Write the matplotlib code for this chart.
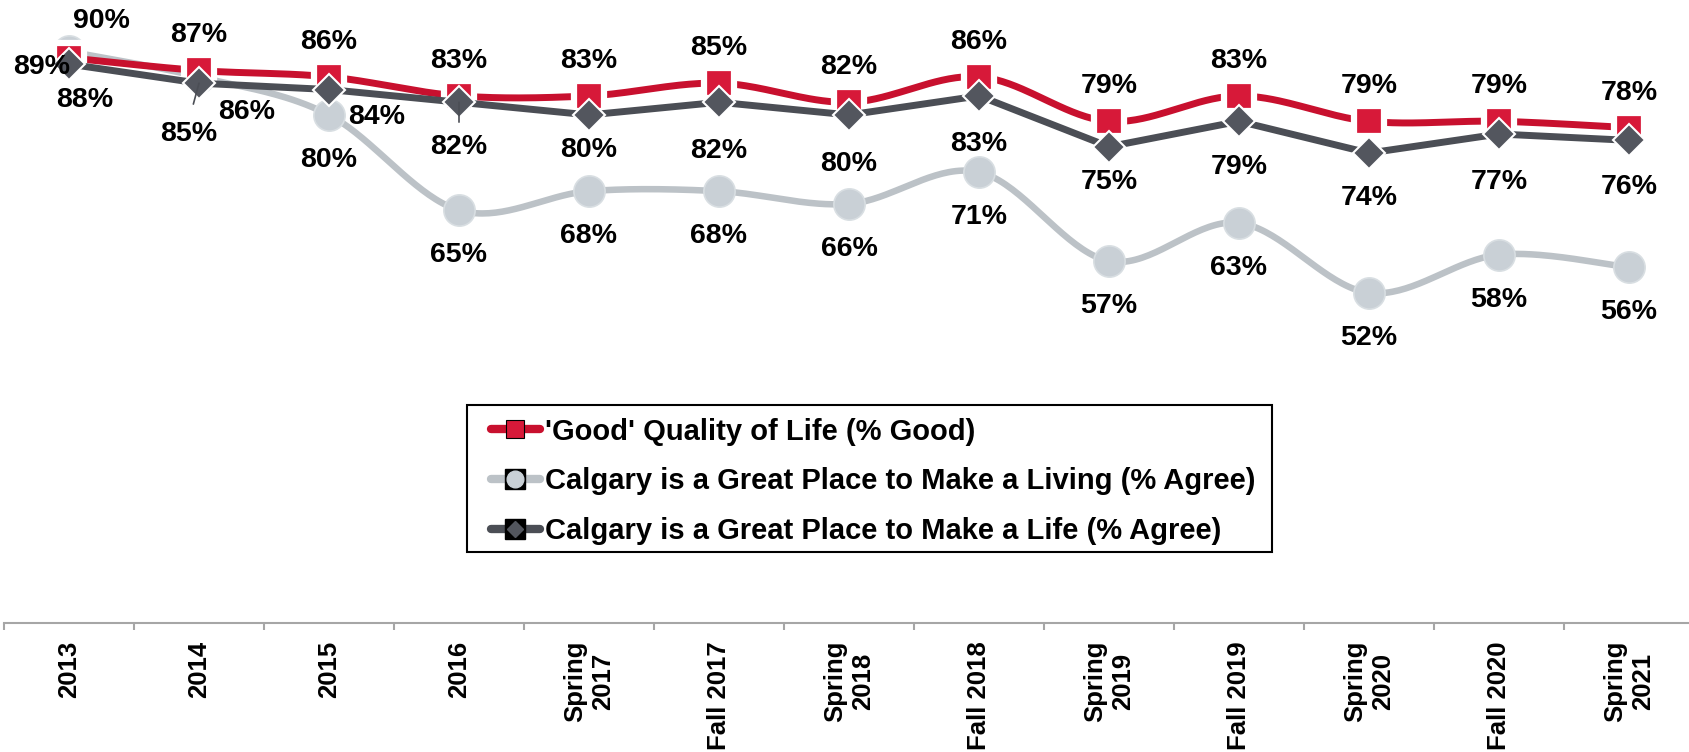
import numpy as np
import matplotlib
matplotlib.use("Agg")
import matplotlib.pyplot as plt
from matplotlib.lines import Line2D
from matplotlib.patches import Rectangle

plt.rcParams['font.family'] = ['Liberation Sans', 'DejaVu Sans']
plt.rcParams['font.weight'] = 'bold'

categories = ['2013', '2014', '2015', '2016', 'Spring\n2017', 'Fall 2017', 'Spring\n2018',
              'Fall 2018', 'Spring\n2019', 'Fall 2019', 'Spring\n2020', 'Fall 2020', 'Spring\n2021']
quality_of_life = [89, 87, 86, 83, 83, 85, 82, 86, 79, 83, 79, 79, 78]
make_a_living = [90, 86, 80, 65, 68, 68, 66, 71, 57, 63, 52, 58, 56]
make_a_life = [88, 85, 84, 82, 80, 82, 80, 83, 75, 79, 74, 77, 76]

series_names = ["'Good' Quality of Life (% Good)",
                "Calgary is a Great Place to Make a Living (% Agree)",
                "Calgary is a Great Place to Make a Life (% Agree)"]

# label offsets in pixels (dx, dy), dy positive = down on the picture
red_off = [(-27, 9)] + [(0, -35)] * 12
light_off = [(32, -30), (48, 35)] + [(0, 45)] * 11
dark_off = [(16, 36), (-10, 51), (48, 27), (0, 45), (0, 35), (0, 49), (0, 49),
            (0, 48), (0, 35), (0, 46), (0, 45), (0, 48), (0, 47)]

RED_LINE, RED_FACE = '#C8102E', '#D71939'
LIGHT_LINE, LIGHT_FACE = '#BCC2C7', '#C9D0D6'
DARK_LINE, DARK_FACE = '#4B4E55', '#53565E'


def smooth(x, y, n=40):
    # Excel-style smoothed line (cubic bezier through the points)
    x = np.asarray(x, float)
    y = np.asarray(y, float)
    px = np.concatenate([[x[0]], x, [x[-1]]])
    py = np.concatenate([[y[0]], y, [y[-1]]])
    t = np.linspace(0, 1, n)[:, None]
    segs = []
    for i in range(len(x) - 1):
        p0 = np.array([px[i], py[i]])
        p1 = np.array([px[i + 1], py[i + 1]])
        p2 = np.array([px[i + 2], py[i + 2]])
        p3 = np.array([px[i + 3], py[i + 3]])
        c1 = p1 + (p2 - p0) / 6
        c2 = p2 - (p3 - p1) / 6
        b = ((1 - t) ** 3) * p1 + 3 * ((1 - t) ** 2) * t * c1 + 3 * (1 - t) * t ** 2 * c2 + t ** 3 * p2
        segs.append(b if i == 0 else b[1:])
    pts = np.vstack(segs)
    return pts[:, 0], pts[:, 1]


fig = plt.figure(figsize=(16.9, 7.52), dpi=100)
ax = fig.add_axes([4 / 1690, 129 / 752, 1.0, 623 / 752])
x = np.arange(len(categories))

# light gray series (bottom)
sx, sy = smooth(x, make_a_living)
ax.plot(sx, sy, color=LIGHT_LINE, lw=4.7, zorder=2, solid_capstyle='round')
ax.plot(x, make_a_living, ls='none', marker='o', ms=22.5, mfc=LIGHT_FACE, mec='#D8DEE2',
        mew=1.2, zorder=2.1)

# red series
sx, sy = smooth(x, quality_of_life)
ax.plot(sx, sy, color=RED_LINE, lw=5, zorder=3, solid_capstyle='round')
ax.plot(x, quality_of_life, ls='none', marker='s', ms=22, mfc=RED_FACE, mec='white',
        mew=4.5, zorder=3.1)

# dark series (top, straight segments)
ax.plot(x, make_a_life, color=DARK_LINE, lw=5, zorder=4)
ax.plot(x, make_a_life, ls='none', marker='D', ms=16.5, mfc=DARK_FACE, mec='white',
        mew=1.5, zorder=4.1)

for vals, offs in [(quality_of_life, red_off), (make_a_living, light_off), (make_a_life, dark_off)]:
    for i, (v, (dx, dy)) in enumerate(zip(vals, offs)):
        ax.annotate(f'{v}%', (x[i], v), xytext=(dx, -dy), textcoords='offset pixels',
                    ha='center', va='center', fontsize=20.5, fontweight='bold',
                    color='black', zorder=10)

# leader lines for the dark labels that sit away from their markers
for i, (sa, sb) in [(1, (12, 0)), (3, (8, 0))]:
    ax.annotate('', xy=(x[i], make_a_life[i]), xytext=(dark_off[i][0], -dark_off[i][1] + 14),
                textcoords='offset pixels',
                arrowprops=dict(arrowstyle='-', color=DARK_LINE, lw=1.2,
                                shrinkA=sa, shrinkB=sb), zorder=9)

ax.set_xlim(-0.5, len(categories) - 0.5)
ax.set_ylim(0, 98.1)
for s in ['left', 'right', 'top']:
    ax.spines[s].set_visible(False)
ax.spines['bottom'].set_color('#A6A6A6')
ax.spines['bottom'].set_linewidth(1.5)
ax.set_yticks([])
ax.set_xticks(np.arange(-0.5, len(categories)), labels=[])
ax.tick_params(axis='x', which='major', length=5, width=1.5, color='#A6A6A6', direction='out')
ax.set_xticks(x, minor=True)
ax.set_xticklabels(categories, minor=True, rotation=90, fontsize=18.5, fontweight='bold',
                   va='top', ha='center', multialignment='center')
ax.tick_params(axis='x', which='minor', length=0, pad=13)

# legend
handles = [
    (Line2D([], [], color=RED_LINE, lw=6, solid_capstyle='round'),
     Line2D([], [], ls='none', marker='s', ms=13.5, mfc=RED_FACE, mec='black', mew=0.8)),
    (Line2D([], [], color=LIGHT_LINE, lw=6, solid_capstyle='round'),
     Line2D([], [], ls='none', marker='s', ms=14, mfc='black', mec='black'),
     Line2D([], [], ls='none', marker='o', ms=12, mfc=LIGHT_FACE, mec=LIGHT_FACE)),
    (Line2D([], [], color=DARK_LINE, lw=6, solid_capstyle='round'),
     Line2D([], [], ls='none', marker='s', ms=14, mfc='black', mec='black'),
     Line2D([], [], ls='none', marker='D', ms=8, mfc=DARK_FACE, mec=DARK_FACE)),
]
fig.legend(handles, series_names, loc='upper left', bbox_to_anchor=(476 / 1690, 1 - 403 / 752),
           frameon=False, borderpad=0, handlelength=1.7, handletextpad=0.15,
           labelspacing=0.74, prop={'size': 21, 'weight': 'bold'})
fig.add_artist(Rectangle((467 / 1690, 1 - 552 / 752), 805 / 1690, 147 / 752,
                         transform=fig.transFigure, fill=False, ec='black', lw=1.5))

fig.savefig('out.png', dpi=100, facecolor='white')
